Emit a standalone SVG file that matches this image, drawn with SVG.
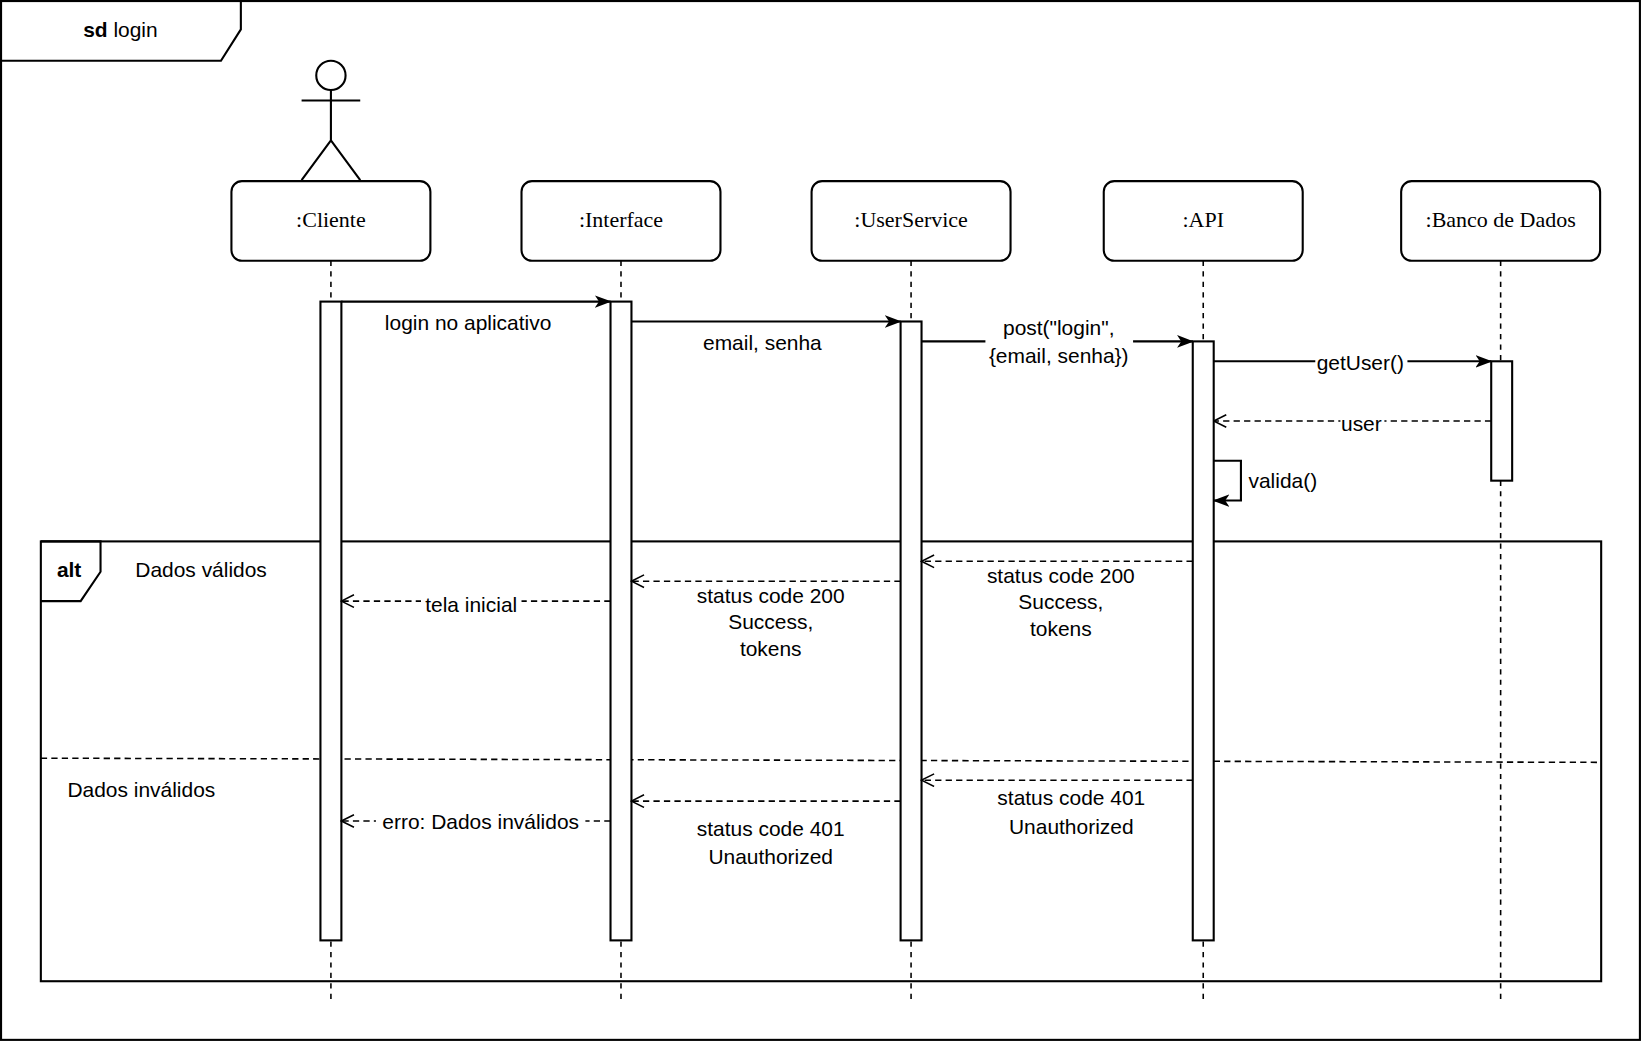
<svg xmlns="http://www.w3.org/2000/svg" width="1642" height="1042" viewBox="0 0 1642 1042">
<style>
.s{fill:none;stroke:#000;stroke-width:2}
.d{fill:none;stroke:#000;stroke-width:1.5;stroke-dasharray:6 4}
.ll{fill:none;stroke:#000;stroke-width:1.5;stroke-dasharray:5 5}
.box{fill:#fff;stroke:#000;stroke-width:2}
.act{fill:#fff;stroke:#000;stroke-width:2}
text{font-family:"Liberation Sans",Arial,sans-serif;font-size:20px;fill:#000}
.serif{font-family:"Liberation Serif","Times New Roman",serif;font-size:21px}
.m{text-anchor:middle}
.bg{fill:#fff;stroke:none}
</style>
<defs>
<marker id="f" markerWidth="16" markerHeight="14" refX="15" refY="7" orient="auto" markerUnits="userSpaceOnUse"><path d="M0,1 L16,7 L0,13 L4,7 Z" fill="#000"/></marker>
<marker id="o" markerWidth="14" markerHeight="14" refX="13" refY="7" orient="auto" markerUnits="userSpaceOnUse"><path d="M1,1 L13,7 L1,13" fill="none" stroke="#000" stroke-width="1.5"/></marker>
</defs>
<rect width="1642" height="1042" fill="#fff"/>
<g transform="scale(1.0472)">
<g id="frame">
<rect x="1" y="1" width="1565" height="992" class="s"/>
<path d="M1,1 H230 V28 L211,58 H1" class="s"/>
<text x="115" y="35" class="m"><tspan font-weight="bold">sd</tspan> login</text>
</g>
<g id="actor" class="s">
<circle cx="316" cy="72" r="14"/>
<path d="M316,86 V134 M288,96 H344 M316,134 L288,172 M316,134 L344,172"/>
</g>
<g id="lifelines">
<path class="ll" d="M316,249 V955 M593,249 V955 M870,249 V955 M1149,249 V955 M1433,249 V955"/>
</g>
<g id="cliente"><rect x="221" y="173" width="190" height="76" rx="10" class="box"/><text x="316" y="217" class="serif m">:Cliente</text></g>
<g id="interface"><rect x="498" y="173" width="190" height="76" rx="10" class="box"/><text x="593" y="217" class="serif m">:Interface</text></g>
<g id="userservice"><rect x="775" y="173" width="190" height="76" rx="10" class="box"/><text x="870" y="217" class="serif m">:UserService</text></g>
<g id="api"><rect x="1054" y="173" width="190" height="76" rx="10" class="box"/><text x="1149" y="217" class="serif m">:API</text></g>
<g id="banco"><rect x="1338" y="173" width="190" height="76" rx="10" class="box"/><text x="1433" y="217" class="serif m">:Banco de Dados</text></g>
<g id="alt">
<rect x="39" y="517" width="1490" height="420" class="s"/>
<path d="M39,517 H96 V546 L77,574 H39" class="s"/>
<text x="66" y="551" class="m" font-weight="bold">alt</text>
<text x="192" y="551" class="m" font-size="21">Dados válidos</text>
<path d="M39,724 L1529,728" class="d"/>
<text x="135" y="761" class="m" font-size="21">Dados inválidos</text>
</g>
<g id="activations">
<rect x="306" y="288" width="20" height="610" class="act"/>
<rect x="583" y="288" width="20" height="610" class="act"/>
<rect x="860" y="307" width="20" height="591" class="act"/>
<rect x="1139" y="326" width="20" height="572" class="act"/>
<rect x="1424" y="345" width="20" height="114" class="act"/>
</g>
<g id="connectors">
<path d="M326,288 H583" class="s" marker-end="url(#f)"/>
<path d="M603,307 H860" class="s" marker-end="url(#f)"/>
<path d="M880,326 H1139" class="s" marker-end="url(#f)"/>
<path d="M1159,345 H1424" class="s" marker-end="url(#f)"/>
<path d="M1424,402 H1159" class="d" marker-end="url(#o)"/>
<path d="M1159,440 H1185 V478 H1159" class="s" marker-end="url(#f)"/>
<path d="M1139,536 H880" class="d" marker-end="url(#o)"/>
<path d="M860,555 H603" class="d" marker-end="url(#o)"/>
<path d="M583,574 H326" class="d" marker-end="url(#o)"/>
<path d="M1139,745 H880" class="d" marker-end="url(#o)"/>
<path d="M860,765 H603" class="d" marker-end="url(#o)"/>
<path d="M583,784 H326" class="d" marker-end="url(#o)"/>
</g>
<g id="labels">
<text x="447" y="315" class="m">login no aplicativo</text>
<text x="728" y="334" class="m">email, senha</text>
<rect x="941" y="300" width="141" height="52" class="bg"/>
<text x="1011" y="320" class="m">post("login",</text>
<text x="1011" y="347" class="m">{email, senha})</text>
<rect x="1256" y="335" width="88" height="22" class="bg"/>
<text x="1299" y="353" class="m">getUser()</text>
<rect x="1280" y="394" width="42" height="22" class="bg"/>
<text x="1300" y="412" class="m">user</text>
<text x="1225" y="466" class="m">valida()</text>
<text x="1013" y="557" class="m">status code 200</text>
<text x="1013" y="582" class="m">Success,</text>
<text x="1013" y="607" class="m">tokens</text>
<text x="736" y="576" class="m">status code 200</text>
<text x="736" y="601" class="m">Success,</text>
<text x="736" y="626" class="m">tokens</text>
<rect x="402" y="566" width="96" height="22" class="bg"/>
<text x="450" y="584" class="m">tela inicial</text>
<text x="1023" y="769" class="m">status code 401</text>
<text x="1023" y="796" class="m">Unauthorized</text>
<text x="736" y="798" class="m">status code 401</text>
<text x="736" y="825" class="m">Unauthorized</text>
<rect x="359" y="774" width="200" height="22" class="bg"/>
<text x="459" y="792" class="m">erro: Dados inválidos</text>
</g>
</g>
</svg>
